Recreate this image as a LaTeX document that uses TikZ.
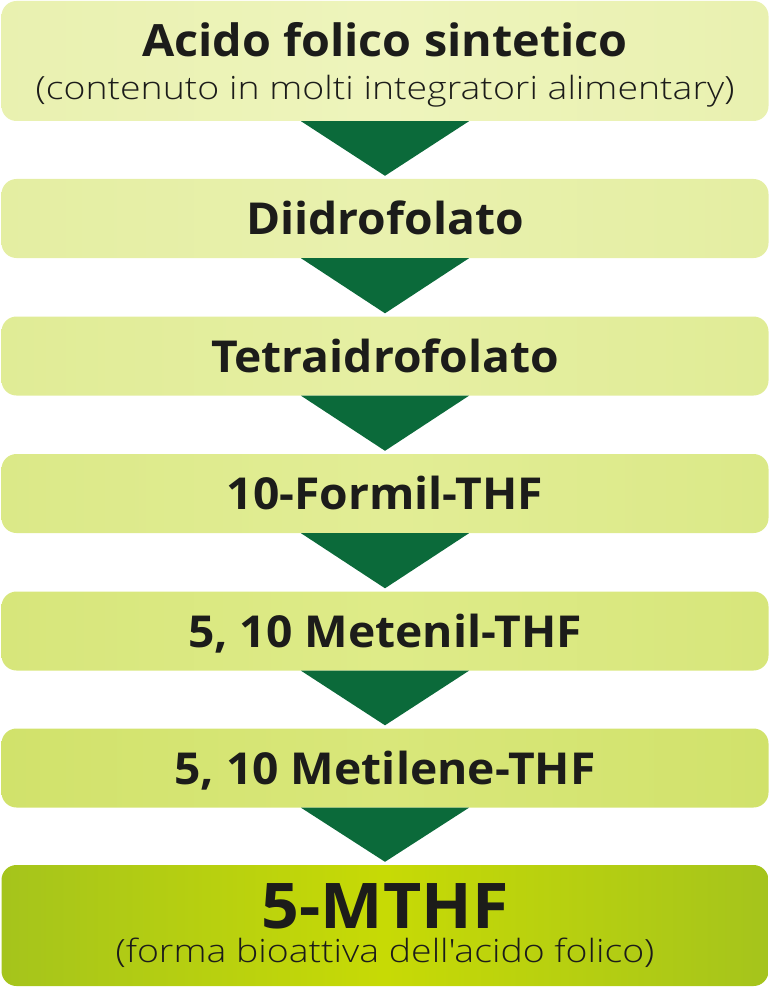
\documentclass[tikz,border=0pt]{standalone}
\usepackage{fontspec}
\setmainfont{Open Sans}
\newfontfamily\stepfont[FakeStretch=1.05]{Open Sans}
\newfontfamily\notefont[FakeStretch=1.17, UprightFont={* Light}]{Open Sans}
\usetikzlibrary{calc}
\definecolor{arrowgreen}{HTML}{0B6A3A}
\definecolor{textdark}{HTML}{1C1C1A}
\definecolor{paleA}{HTML}{E9F1B0}
\definecolor{paleAm}{HTML}{EEF4BC}
\definecolor{paleB}{HTML}{E4EEA2}
\definecolor{paleBm}{HTML}{E9F1AE}
\definecolor{paleC}{HTML}{E0EC96}
\definecolor{paleCm}{HTML}{E6EFA3}
\definecolor{paleD}{HTML}{DBE988}
\definecolor{paleDm}{HTML}{E2ED95}
\definecolor{paleE}{HTML}{D7E67B}
\definecolor{paleEm}{HTML}{DEEB88}
\definecolor{paleF}{HTML}{D1E26B}
\definecolor{paleFm}{HTML}{D9E77A}
\definecolor{limeG}{HTML}{A5C41C}
\definecolor{limeGm}{HTML}{C7DA05}
\tikzset{
  stepbox/.style={rectangle, rounded corners=15pt, minimum width=767pt,
    minimum height=79pt, inner sep=0pt, text=textdark,
    text height=32pt, text depth=0pt,
    font=\stepfont\bfseries\fontsize{44}{48}\selectfont},
  shade/.style n args={2}{left color=#1, right color=#1, middle color=#2},
  steptitle/.style={anchor=base, inner sep=0pt, text=textdark,
    font=\stepfont\bfseries\fontsize{44.5}{48}\selectfont},
  stepnote/.style={anchor=base, inner sep=0pt, text=textdark,
    font=\notefont\fontsize{32}{36}\selectfont},
  downtip/.style={fill=arrowgreen},
}
\begin{document}
\begin{tikzpicture}[x=1pt,y=-1pt]
\useasboundingbox (0,0) rectangle (770,987);

% Boxes
\node[stepbox, shade={paleA}{paleAm}, minimum height=120pt] (acido) at (385,61) {};
\node[steptitle] (acidoname) at (385,57) {Acido folico sintetico};
\node[stepnote] (acidonote) at (385,100) {(contenuto in molti integratori alimentary)};
\node[stepbox, shade={paleB}{paleBm}] (diidro) at (385,218.5) {Diidrofolato};
\node[stepbox, shade={paleC}{paleCm}] (tetra) at (385,356) {Tetraidrofolato};
\node[stepbox, shade={paleD}{paleDm}] (formil) at (385,493.5) {10-Formil-THF};
\node[stepbox, shade={paleE}{paleEm}] (metenil) at (385,631) {5, 10 Metenil-THF};
\node[stepbox, shade={paleF}{paleFm}] (metilene) at (385,768) {5, 10 Metilene-THF};
\node[stepbox, shade={limeG}{limeGm}, minimum height=121pt] (mthf) at (385,925.5) {};
\node[steptitle, font=\stepfont\bfseries\fontsize{63}{68}\selectfont] (mthfname) at (385,928) {5-MTHF};
\node[stepnote] (mthfnote) at (385,962) {(forma bioattiva dell'acido folico)};

% Arrows between boxes
\foreach \a/\b in {acido/diidro, diidro/tetra, tetra/formil, formil/metenil,
                   metenil/metilene, metilene/mthf}
  \fill[downtip] ($(\a.south)+(-84,0)$) -- ($(\a.south)+(84,0)$)
    -- ($(\b.north)+(0,-3)$) -- cycle;
\end{tikzpicture}
\end{document}
